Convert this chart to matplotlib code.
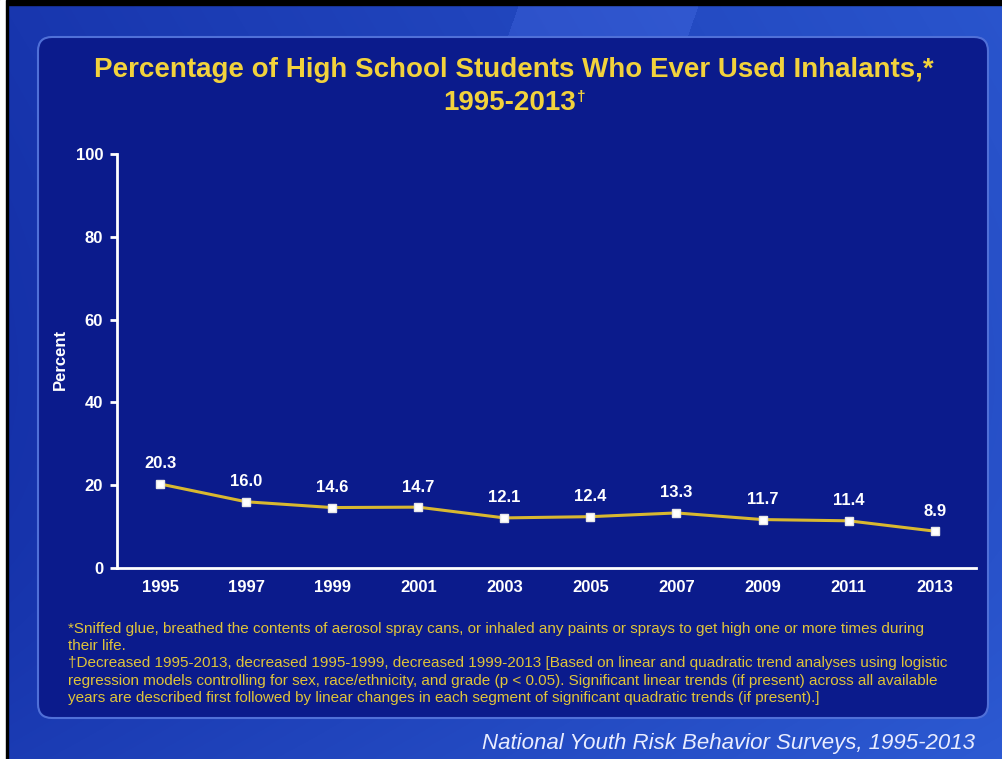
import numpy as np
import matplotlib
matplotlib.use("Agg")
import matplotlib.pyplot as plt
from matplotlib.patches import FancyBboxPatch, Rectangle

years = ["1995", "1997", "1999", "2001", "2003", "2005", "2007", "2009", "2011", "2013"]
percent = [20.3, 16.0, 14.6, 14.7, 12.1, 12.4, 13.3, 11.7, 11.4, 8.9]
yticks = [0, 20, 40, 60, 80, 100]

title_line1 = "Percentage of High School Students Who Ever Used Inhalants,*"
title_line2 = "1995-2013"
title_mark = "\u2020"
footnotes = [
    "*Sniffed glue, breathed the contents of aerosol spray cans, or inhaled any paints or sprays to get high one or more times during",
    "their life.",
    "\u2020Decreased 1995-2013, decreased 1995-1999, decreased 1999-2013 [Based on linear and quadratic trend analyses using logistic",
    "regression models controlling for sex, race/ethnicity, and grade (p < 0.05). Significant linear trends (if present) across all available",
    "years are described first followed by linear changes in each segment of significant quadratic trends (if present).]",
]
source = "National Youth Risk Behavior Surveys, 1995-2013"

W, H = 1003, 759
fig = plt.figure(figsize=(W / 100, H / 100), dpi=100)
plt.rcParams['font.family'] = ['Liberation Sans', 'DejaVu Sans']

def fx(x):
    return x / W

def fy(y):
    return 1 - y / H

# background gradient
bg = fig.add_axes([0, 0, 1, 1])
bg.set_axis_off()
yy, xx = np.mgrid[0:H, 0:W]
c1 = np.array([0x10, 0x28, 0xa0]) / 255
c2 = np.array([0x30, 0x60, 0xd8]) / 255
t = np.clip(0.55 * xx / W + 0.25 * (1 - yy / H) + 0.35 * (yy / H) ** 3, 0, 1)
img = c1[None, None, :] * (1 - t[..., None]) + c2[None, None, :] * t[..., None]
streak = ((xx + 0.35 * yy > 520) & (xx + 0.35 * yy < 700)).astype(float) * 0.05
img = np.clip(img + streak[..., None] * (yy[..., None] < 120), 0, 1)
bg.imshow(img, extent=[0, W, H, 0], aspect='auto')
bg.set_xlim(0, W)
bg.set_ylim(H, 0)
bg.add_patch(Rectangle((0, 0), W, 5, color='black'))
bg.add_patch(Rectangle((0, 0), 6, H, color='white'))
bg.add_patch(Rectangle((6, 0), 2, H, color='black'))

# panel
panel = FancyBboxPatch((38, 37), 950, 681, boxstyle="round,pad=0,rounding_size=14",
                       facecolor='#0b1b8c', edgecolor='#5070d8', linewidth=1.5)
bg.add_patch(panel)

# title
title_color = '#f2d23c'
fig.text(fx(514), fy(70), title_line1, color=title_color, fontsize=20,
         fontweight='bold', ha='center', va='center')
t2 = fig.text(fx(510), fy(103), title_line2, color=title_color, fontsize=20,
              fontweight='bold', ha='center', va='center')
renderer = fig.canvas.get_renderer()
bb = t2.get_window_extent(renderer=renderer)
fig.text((bb.x1 + 1) / W, bb.y1 / H, title_mark, color=title_color, fontsize=11,
         fontweight='bold', ha='left', va='top')

# chart axes
left, right, top, bottom = 117, 976, 154, 568
ax = fig.add_axes([fx(left), fy(bottom), fx(right - left), (bottom - top) / H])
ax.patch.set_alpha(0)
x = np.arange(len(years))
ax.plot(x, percent, color='#d8b830', linewidth=2.2, zorder=2)
ax.plot(x, percent, linestyle='none', marker='s', markersize=6,
        markerfacecolor='white', markeredgecolor='#e8e8e8', zorder=3)
for xi, v in zip(x, percent):
    ax.annotate(f"{v:.1f}", (xi, v), xytext=(0, 9), textcoords='offset points',
                ha='center', va='bottom', color='white', fontsize=12, fontweight='bold')
ax.set_xlim(-0.5, 9.48)
ax.set_ylim(0, 100)
ax.set_xticks(x)
ax.set_xticklabels(years)
ax.set_yticks(yticks)
for s in ['top', 'right']:
    ax.spines[s].set_visible(False)
for s in ['left', 'bottom']:
    ax.spines[s].set_color('white')
    ax.spines[s].set_linewidth(2)
ax.tick_params(axis='y', colors='white', length=5, width=2, direction='out', pad=5,
               labelsize=12)
ax.tick_params(axis='x', colors='white', length=0, pad=9, labelsize=12)
for lab in ax.get_xticklabels() + ax.get_yticklabels():
    lab.set_fontweight('bold')

fig.text(fx(60), fy(359), "Percent", color='white', fontsize=12, fontweight='bold',
         rotation=90, ha='center', va='center')

# footnotes
for i, line in enumerate(footnotes):
    fig.text(fx(68), fy(629 + 17.2 * i), line, color='#e0c43a', fontsize=11,
             ha='left', va='center')

fig.text(fx(975), fy(743), source, color='#e8ecff', fontsize=16, style='italic',
         ha='right', va='center')

fig.savefig("out.png", dpi=100)
